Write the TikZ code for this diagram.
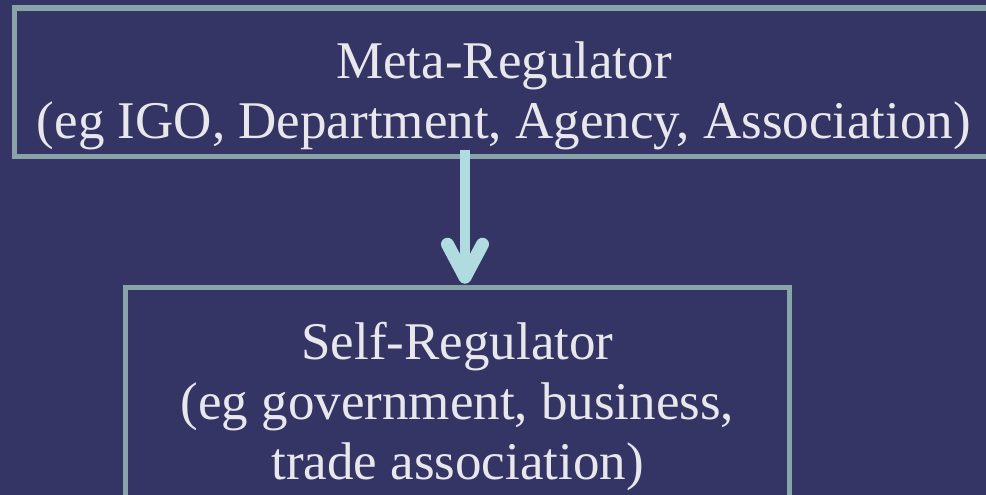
\documentclass[tikz,border=0pt]{standalone}
\usepackage{fontspec}
\setmainfont{Liberation Serif}
\usepackage{tikz}
\usetikzlibrary{arrows.meta}

\definecolor{slate}{RGB}{52,53,100}
\definecolor{frame}{RGB}{136,164,168}
\definecolor{pale}{RGB}{176,220,224}
\definecolor{ink}{RGB}{232,232,236}

\begin{document}
\begin{tikzpicture}[x=1pt,y=-1pt,
    regbox/.style={draw=frame,line width=5.5pt,text=ink,align=center,inner sep=0pt,
      font=\fontsize{53}{60}\selectfont},
    flow/.style={pale,line width=10pt,
      -{Straight Barb[round,line width=13pt,length=33pt,width=35pt]}}]
  % Background
  \fill[slate] (0,0) rectangle (986,495);
  \useasboundingbox (0,0) rectangle (986,495);

  % Upper box
  \node[regbox,minimum width=979pt,text height=131pt,text depth=17.5pt] (meta) at (504,82.25)
    {Meta-Regulator\\(eg IGO, Department, Agency, Association)};

  % Lower box
  \node[regbox,minimum width=664pt,minimum height=237pt] (self) at (457.5,406)
    {Self-Regulator\\(eg government, business,\\trade association)};

  % Arrow
  \draw[flow] ([xshift=7.5pt,yshift=9pt]meta.south -| self.north) -- ([xshift=7.5pt,yshift=1pt]self.north);
\end{tikzpicture}
\end{document}
